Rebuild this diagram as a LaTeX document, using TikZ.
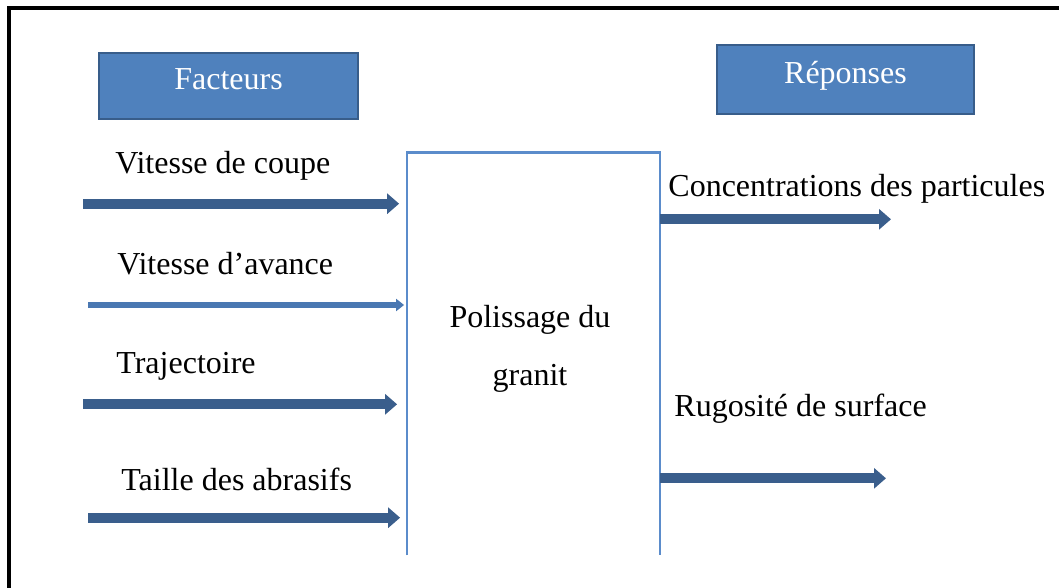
\documentclass[tikz,border=0pt]{standalone}
\usepackage{fontspec}
\setmainfont{Liberation Serif}
\usetikzlibrary{arrows.meta}
\definecolor{hdrfill}{HTML}{4F81BD}
\definecolor{hdrdraw}{HTML}{385D8A}
\definecolor{arrowdark}{HTML}{3A5E8C}
\definecolor{arrowlight}{HTML}{4A78B2}
\definecolor{boxline}{HTML}{5B8CCB}
\begin{document}
\begin{tikzpicture}[x=0.5pt,y=-0.5pt,
  txt/.style={font=\fontsize{16}{19}\selectfont},
  hdr/.style={txt, draw=hdrdraw, line width=1pt, fill=hdrfill, text=white,
    inner sep=0pt, text height=0.7em, text depth=0.3em},
  lbl/.style={txt, anchor=base west, inner sep=0pt},
  flow/.style={draw=arrowdark, line width=5pt, -{Triangle[width=10pt,length=6pt]}},
  thinflow/.style={draw=arrowlight, line width=3pt, -{Triangle[width=6pt,length=4pt]}},
  frame/.style={draw=black, line width=2pt}
]
\useasboundingbox (0,0) rectangle (1059,588);
% outer frame (top and left edges)
\draw[frame] (9,588) -- (9,8) -- (1059,8);

% header boxes
\node[hdr, minimum width=129.5pt, minimum height=33pt] (fact) at (228.5,86) {Facteurs};
\node[hdr, minimum width=128.5pt, minimum height=34.5pt] (rep) at (845.5,79.5) {Réponses};

% process box (open at the bottom)
\node[minimum width=126pt, minimum height=201pt, inner sep=0pt] (proc) at (533.5,354) {};
\draw[boxline, line width=1.2pt] (proc.south west) -- (proc.north west) -- (proc.north east) -- (proc.south east);
\node[txt, align=center, inner sep=0pt, font=\fontsize{16}{29}\selectfont] (ptext) at (530,348.5) {Polissage du\\granit};

% input labels
\node[lbl] (l1) at (115,174) {Vitesse de coupe};
\node[lbl] (l2) at (117,274) {Vitesse d'avance};
\node[lbl] (l3) at (116,373) {Trajectoire};
\node[lbl] (l4) at (121,490) {Taille des abrasifs};

% output labels
\node[lbl] (o1) at (668,197) {Concentrations des particules};
\node[lbl] (o2) at (674,416) {Rugosité de surface};

% arrow endpoints
\coordinate (s1) at (83,203.7);
\coordinate (s2) at (88,305);
\coordinate (s3) at (83,404.3);
\coordinate (s4) at (88,517.7);
\coordinate (e1) at (891,219.3);
\coordinate (e2) at (886,478.3);

% input arrows
\draw[flow] (s1) -- ([xshift=-4pt]proc.west |- s1);
\draw[thinflow] (s2) -- ([xshift=-1.5pt]proc.west |- s2);
\draw[flow] (s3) -- ([xshift=-5pt]proc.west |- s3);
\draw[flow] (s4) -- ([xshift=-3.5pt]proc.west |- s4);

% output arrows
\draw[flow] (proc.east |- e1) -- (e1);
\draw[flow] (proc.east |- e2) -- (e2);
\end{tikzpicture}
\end{document}
